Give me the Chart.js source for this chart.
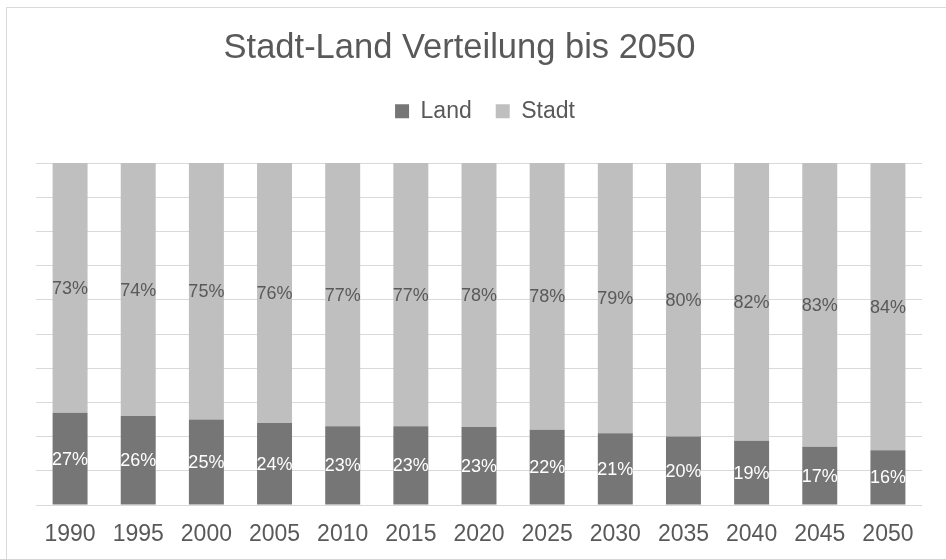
<!DOCTYPE html>
<html>
<head>
<meta charset="utf-8">
<script src="https://cdn.jsdelivr.net/npm/chart.js@4.4.0/dist/chart.umd.min.js"></script>
<style>
    html, body { margin: 0; padding: 0; background: #fff; overflow: hidden; }
    #wrap { position: absolute; left: 0; top: 0; width: 946px; height: 559px; overflow: hidden; }
    #frame { position: absolute; left: 6px; top: 7px; width: 1000px; height: 600px; border: 1px solid #d9d9d9; }
    #chart { position: absolute; left: 0; top: 0; }
</style>
</head>
<body>
<div id="wrap">
    <div id="frame"></div>
    <canvas id="chart" width="946" height="559"></canvas>
</div>
<script>
const years = ['1990', '1995', '2000', '2005', '2010', '2015', '2020', '2025', '2030', '2035', '2040', '2045', '2050'];
const land = [27, 26, 25, 24, 23, 23, 23, 22, 21, 20, 19, 17, 16];
const stadt = [73, 74, 75, 76, 77, 77, 78, 78, 79, 80, 82, 83, 84];

const FONT = '"Liberation Sans", Arial, sans-serif';
Chart.defaults.font.family = FONT;
Chart.defaults.color = '#595959';

// 100% stacked: each column scaled to its own total
function share(values) {
    return values.map((v, i) => v / (land[i] + stadt[i]) * 100);
}

const barLabels = {
    id: 'barLabels',
    afterDatasetsDraw(chart) {
        const ctx = chart.ctx;
        ctx.save();
        ctx.font = '18px ' + FONT;
        ctx.textAlign = 'center';
        ctx.textBaseline = 'middle';
        chart.data.datasets.forEach((ds, di) => {
            ctx.fillStyle = ds.labelColor;
            chart.getDatasetMeta(di).data.forEach((bar, i) => {
                ctx.fillText(ds.raw[i] + '%', bar.x, (bar.y + bar.base) / 2 + 1);
            });
        });
        ctx.restore();
    }
};

// title sits a bit left of the plot centre in the original, legend a bit right
const nudge = {
    id: 'nudge',
    afterLayout(chart) {
        chart.titleBlock.left -= 39;
        chart.legend.left += 6;
        chart.legend.right += 6;
    }
};

new Chart(document.getElementById('chart'), {
    type: 'bar',
    data: {
        labels: years,
        datasets: [
            {
                label: 'Land',
                data: share(land),
                raw: land,
                labelColor: '#ffffff',
                backgroundColor: '#767676'
            },
            {
                label: 'Stadt',
                data: share(stadt),
                raw: stadt,
                labelColor: '#595959',
                backgroundColor: '#bfbfbf'
            }
        ]
    },
    options: {
        responsive: false,
        animation: false,
        layout: { padding: { left: 36, right: 24, top: 0, bottom: 0 } },
        datasets: { bar: { categoryPercentage: 1, barPercentage: 0.513 } },
        plugins: {
            title: {
                display: true,
                text: 'Stadt-Land Verteilung bis 2050',
                color: '#595959',
                font: { size: 34.5, weight: 'normal' },
                padding: { top: 28, bottom: 6.4 }
            },
            subtitle: {
                // spacer between legend and plot
                display: true,
                text: '',
                weight: 500,
                font: { size: 1 },
                padding: { top: 29, bottom: 0 }
            },
            legend: {
                position: 'top',
                labels: {
                    boxWidth: 14,
                    boxHeight: 14,
                    padding: 24,
                    color: '#595959',
                    font: { size: 23 }
                }
            },
            tooltip: { enabled: false }
        },
        scales: {
            x: {
                stacked: true,
                grid: { display: false, drawTicks: false },
                border: { display: false },
                ticks: { padding: 15.5, color: '#595959', font: { size: 23 } },
                afterFit(scale) { scale.height = 54; }
            },
            y: {
                stacked: true,
                min: 0,
                max: 100,
                ticks: { display: false, stepSize: 10 },
                grid: { color: '#d9d9d9', lineWidth: 1, drawTicks: false },
                border: { display: false },
                afterFit(scale) { scale.width = 0; }
            }
        }
    },
    plugins: [barLabels, nudge]
});
</script>
</body>
</html>
